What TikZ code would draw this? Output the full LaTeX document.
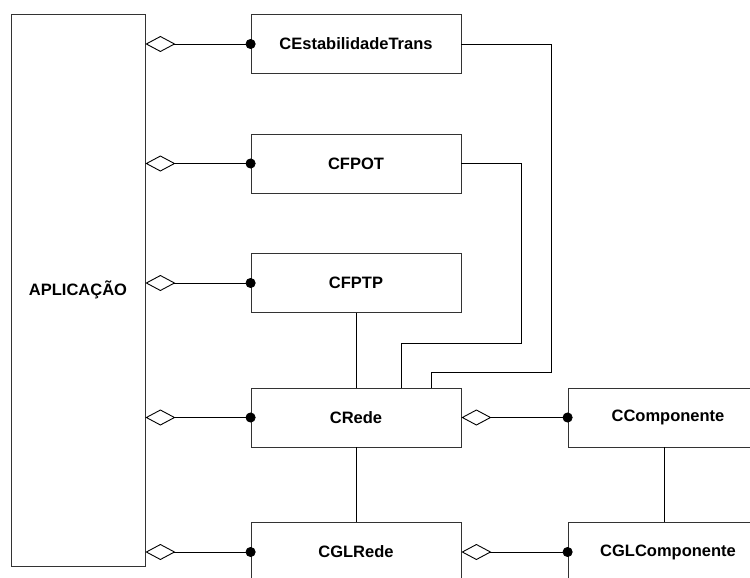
\documentclass[tikz,border=0pt]{standalone}
\usepackage{fontspec}
\setmainfont{Liberation Sans}
\usetikzlibrary{arrows.meta}

\begin{document}
\begin{tikzpicture}[x=1pt, y=-1pt,
    font=\bfseries\fontsize{16.5}{20}\selectfont,
    classe/.style={draw=black!80, line width=0.8pt, minimum width=210pt,
      minimum height=59pt, inner sep=0pt},
    agrega/.style={line width=0.9pt,
      {Diamond[open, length=30pt, width=16pt, line width=0.9pt]}-{Circle[length=10pt]},
      shorten >=-5pt},
    liga/.style={line width=0.9pt}]
    \useasboundingbox (0,0) rectangle (750,578);
    \clip (0,0) rectangle (750,578);
    % classes
    \node[classe, minimum width=134pt, minimum height=552pt] (app) at (78,290) {APLICAÇÃO};
    \node[classe] (cest) at (356,44) {CEstabilidadeTrans};
    \node[classe] (cfpot) at (356,163.5) {CFPOT};
    \node[classe] (cfptp) at (356,283) {CFPTP};
    \node[classe] (crede) at (356,417.5) {CRede};
    \node[classe, minimum width=200pt] (ccomp) at (668,417.5) {CComponente};
    \node[classe, minimum height=60pt] (cglrede) at (356,552) {CGLRede};
    \node[classe, minimum width=200pt, minimum height=60pt] (cglcomp) at (668,552) {CGLComponente};
    % agregacoes da aplicacao
    \foreach \c in {cest,cfpot,cfptp,crede,cglrede}
      \draw[agrega] (\c.west -| app.east) -- (\c.west);
    % agregacoes dos componentes
    \draw[agrega] (crede.east) -- (ccomp.west);
    \draw[agrega] (cglrede.east) -- (cglcomp.west);
    % associacoes
    \draw[liga] (cfptp.south) -- (crede.north);
    \draw[liga] (crede.south) -- (cglrede.north);
    \draw[liga] ([xshift=-4pt]ccomp.south) -- ([xshift=-4pt]cglcomp.north);
    \draw[liga] (cfpot.east) -| (521,343) -| ([xshift=45pt]crede.north);
    \draw[liga] (cest.east) -| (551,372) -| ([xshift=75pt]crede.north);
\end{tikzpicture}
\end{document}
